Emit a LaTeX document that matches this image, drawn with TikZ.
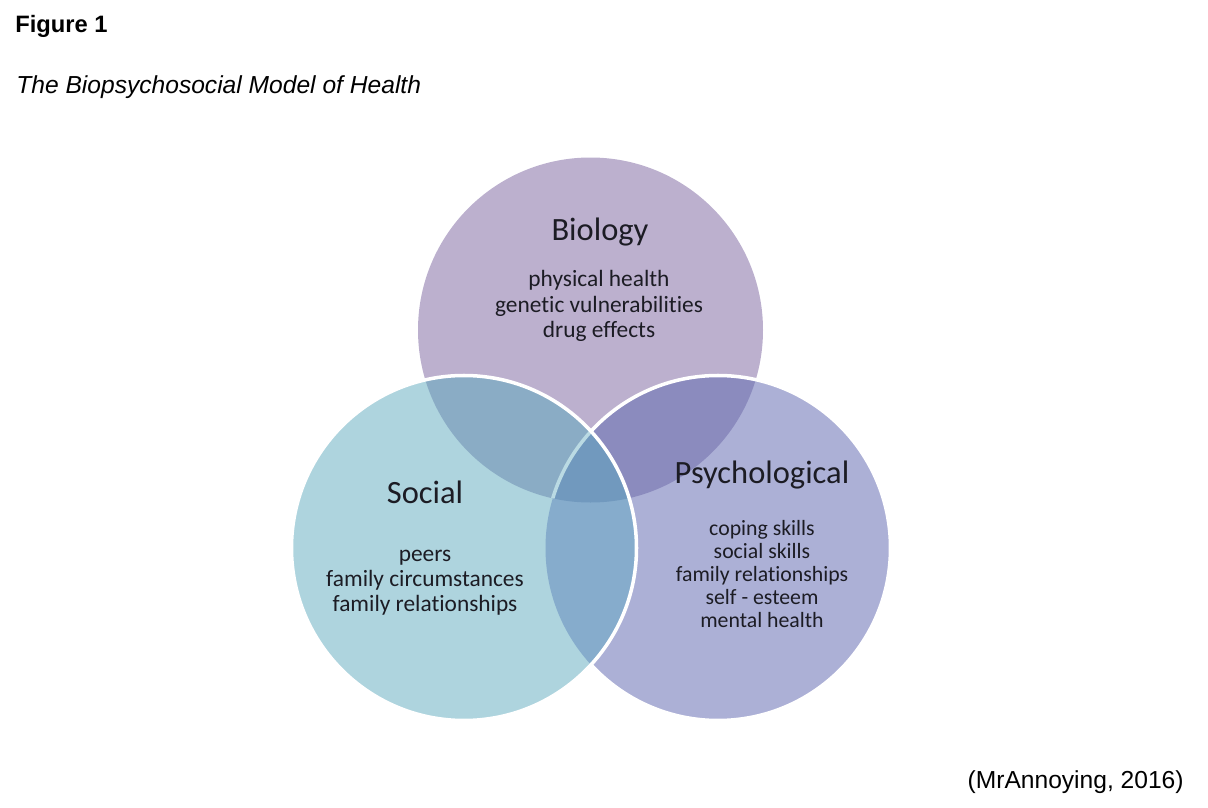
\documentclass[tikz,border=0pt]{standalone}
\usepackage{fontspec}
\setmainfont{Liberation Sans}
\newfontfamily\vennfont[Ligatures=NoCommon]{Carlito}
\usepackage{xcolor}
\usetikzlibrary{positioning}

\definecolor{biofill}{RGB}{188,176,206}
\definecolor{socfill}{RGB}{174,212,222}
\definecolor{psyfill}{RGB}{172,176,214}
\definecolor{biosoc}{RGB}{138,172,197}
\definecolor{biopsy}{RGB}{139,139,190}
\definecolor{socpsy}{RGB}{134,172,204}
\definecolor{allthree}{RGB}{113,153,190}
\definecolor{ink}{RGB}{28,28,36}

\begin{document}
\begin{tikzpicture}[
    x=0.02cm, y=-0.02cm,
    caption/.style={inner sep=0pt, font=\fontsize{14}{16}\selectfont},
    heading/.style={inner sep=0pt, text=ink, font=\vennfont\fontsize{18.5}{20}\selectfont},
    items/.style={inner sep=0pt, align=center, text=ink, font=\vennfont\fontsize{13.3}{14.3}\selectfont},
    rim/.style={draw=white, line width=2pt}
]
    \useasboundingbox (0,0) rectangle (1208,808);
    \def\vennr{172.5}
    \coordinate (bio) at (590.5,330);
    \coordinate (soc) at (464,548);
    \coordinate (psy) at (718,548);

    % discs and overlaps
    \fill[biofill] (bio) circle [radius=\vennr];
    \fill[psyfill] (psy) circle [radius=\vennr];
    \begin{scope}
        \clip (bio) circle [radius=\vennr];
        \fill[biopsy] (psy) circle [radius=\vennr];
    \end{scope}
    \draw[rim] (psy) circle [radius=\vennr];
    \fill[socfill] (soc) circle [radius=\vennr];
    \begin{scope}
        \clip (soc) circle [radius=\vennr];
        \fill[biosoc] (bio) circle [radius=\vennr];
        \fill[socpsy] (psy) circle [radius=\vennr];
        \clip (bio) circle [radius=\vennr];
        \fill[allthree] (psy) circle [radius=\vennr];
        \draw[rim, draw=socfill!85!white] (psy) circle [radius=\vennr];
    \end{scope}
    \draw[rim] (soc) circle [radius=\vennr];

    % texts
    \node[caption, anchor=base west, font=\bfseries\fontsize{13.5}{16}\selectfont] (fig) at (15,32) {Figure 1};
    \node[caption, anchor=base west, font=\itshape\fontsize{14}{16}\selectfont] (title) at (16,93) {The Biopsychosocial Model of Health};
    \node[caption, anchor=base east] (credit) at (1184,788) {(MrAnnoying, 2016)};

    \node[heading, anchor=base] (bioh) at (600,240) {Biology};
    \node[items] (biol) at (599,306) {physical health\\genetic vulnerabilities\\drug effects};

    \node[heading, anchor=base] (soch) at (425,503) {Social};
    \node[items] (socl) at (425,583) {peers\\family circumstances\\family relationships};

    \node[heading, anchor=base] (psyh) at (762,483) {Psychological};
    \node[items, font=\vennfont\fontsize{12.4}{13}\selectfont] (psyl) at (762,574) {coping skills\\social skills\\family relationships\\self - esteem\\mental health};
\end{tikzpicture}
\end{document}
